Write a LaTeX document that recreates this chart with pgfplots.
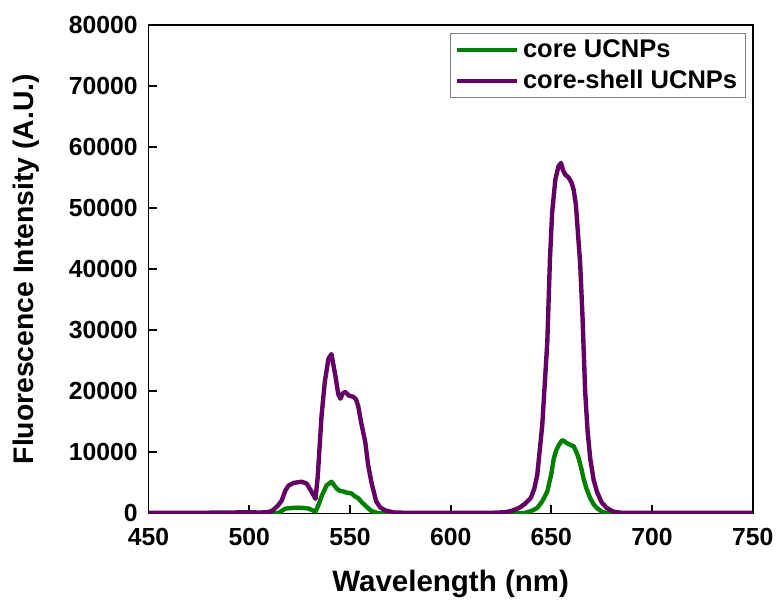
\documentclass[border=0pt]{standalone}
\usepackage{fontspec}
\setmainfont{Liberation Sans}
\usepackage{pgfplots}
\pgfplotsset{compat=1.18}

\definecolor{coregreen}{RGB}{0,128,0}
\definecolor{shellpurple}{RGB}{100,0,100}

\pgfplotstableread{
x y
450 0
510 0
514.7 100
516 400
518.1 800
521 900
524.5 950
527 900
529.5 800
531.5 500
532.9 300
534.5 1500
535.9 2800
538.4 4600
540.8 5200
542 4700
543.3 4100
545 3700
546.7 3600
548.5 3400
550.7 3300
552.5 2800
554.1 2500
556 1800
557.6 1300
560.6 400
564 50
570 0
630 0
636.4 50
640 400
643 900
645.5 2000
648 3600
650 6500
651.2 9000
652.5 10400
653.7 11200
655.3 12000
656.5 11800
657.8 11500
659.5 11200
661.1 11000
662.5 10000
663.6 9000
665 7200
666 5700
667.5 4000
669.3 2500
671 1500
672.6 900
675 300
677.5 50
680 0
750 0
}\core

\pgfplotstableread{
x y
450 100
470 100
490 150
500 200
505 150
509 200
511.2 400
514 1200
516.1 2100
518 3800
519.6 4600
522 5000
526 5200
528.5 4900
530.5 3800
532.9 2400
534 6000
535.9 16000
537.5 21500
539.3 25300
540.8 26100
542.8 22500
544.2 19500
545.3 18800
546.5 19700
547.7 19900
549.5 19300
551.7 19100
553 18700
554.1 17600
555.5 15000
557.6 11700
559 8000
560.6 5200
563 2000
565 1000
567.5 500
572 150
580 100
600 100
620 100
627 200
630 400
634 900
637 1600
639.7 2500
641.5 4000
643 6300
645.5 14500
648 28100
649.3 41600
650.4 49300
652 54700
653.5 56800
654.8 57400
655.8 56200
656.9 55500
658.6 55000
660 54200
661.1 53000
662.2 50500
663.3 45500
664.3 41000
665.5 32000
666.8 19900
668 13500
669.3 9000
671 5500
672.6 3600
675 1800
677.5 900
680.8 300
685 100
700 100
750 100
}\shell

\begin{document}
\begin{tikzpicture}
\begin{axis}[
    name=ax,
    scale only axis,
    width=303pt, height=245pt,
    xmin=450, xmax=750, ymin=0, ymax=80000,
    xtick={450,500,...,750},
    ytick={0,10000,...,80000},
    scaled y ticks=false,
    /pgf/number format/1000 sep={},
    /pgf/number format/assume math mode=true,
    tick label style={font=\fontsize{12.4}{14}\selectfont\bfseries},
    xlabel style={font=\fontsize{14.8}{17}\selectfont\bfseries, yshift=-5pt},
    ylabel style={font=\fontsize{14.2}{16}\selectfont\bfseries, yshift=8pt},
    xlabel={Wavelength (nm)},
    ylabel={Fluorescence Intensity (A.U.)},
    tick align=inside,
    xtick pos=bottom, ytick pos=left,
    major tick length=4pt,
    axis line style={line width=0.9pt},
    every tick/.style={black, line width=0.9pt},
    xticklabel style={yshift=-4pt},
    yticklabel style={xshift=-2pt},
    legend style={at={(1,1)}, anchor=north east, xshift=-3.5pt, yshift=-4pt,
        draw=gray, line width=0.6pt,
        font=\fontsize{12.8}{14.5}\selectfont\bfseries,
        row sep=1pt, inner xsep=2pt, inner ysep=1pt},
    legend cell align=left,
    legend image code/.code={\draw[#1, line width=2.2pt] (0pt,0pt) -- (30pt,0pt);},
]
\addplot[coregreen, line width=2.2pt, line join=round] table {\core};
\addlegendentry{core UCNPs}
\addplot[shellpurple, line width=2.2pt, line join=round] table {\shell};
\addlegendentry{core-shell UCNPs}
\end{axis}
\path ([xshift=-74.5pt,yshift=-44pt]ax.south west) rectangle ([xshift=12.5pt,yshift=12.5pt]ax.north east);
\end{tikzpicture}
\end{document}
